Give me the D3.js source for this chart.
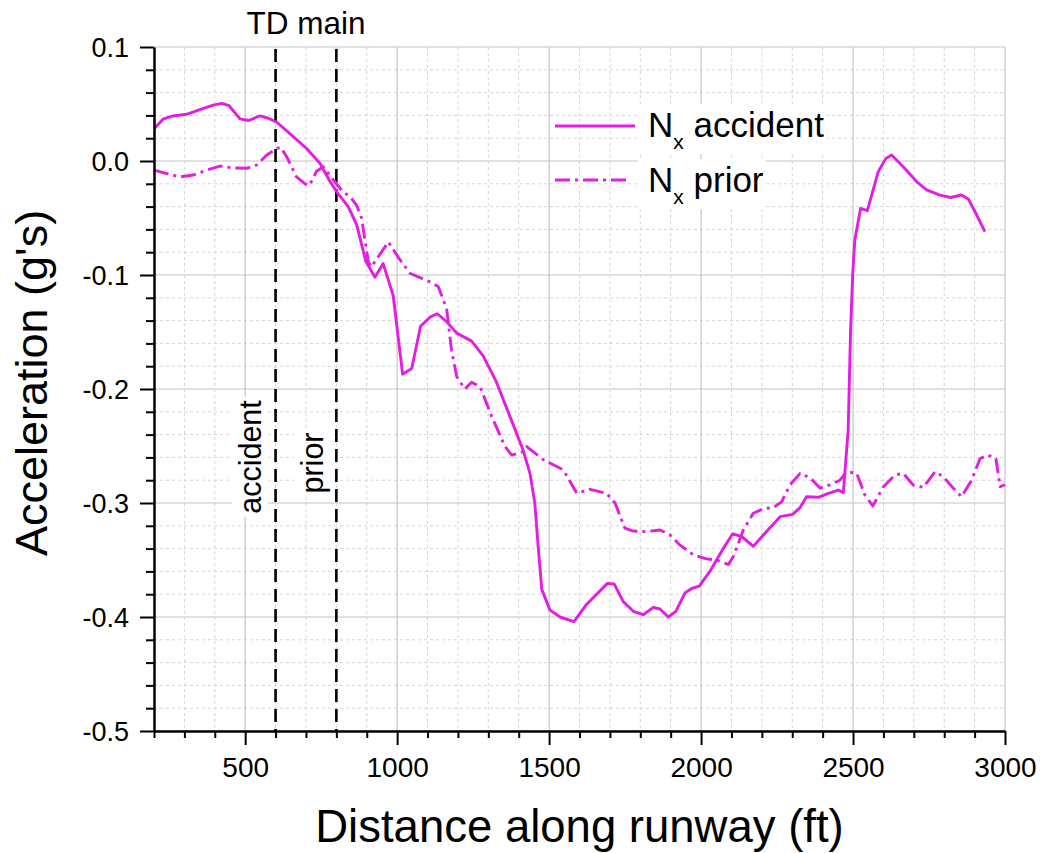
<!DOCTYPE html>
<html>
<head>
<meta charset="utf-8">
<script src="https://cdn.jsdelivr.net/npm/d3@7"></script>
<style>
  html, body { margin: 0; padding: 0; background: #fff; }
  svg { display: block; font-family: "Liberation Sans", Arial, sans-serif; }
</style>
</head>
<body>
<svg id="chart" width="1041" height="853"></svg>
<script>
// ---------------- data ----------------
const accidentX = [200,231,263,307,351,395,423,447,483,510,549,576,604,647,702,746,779,801,839,867,897,927,954,987,1018,1048,1077,1108,1132,1163,1196,1245,1283,1327,1371,1415,1437,1453,1464,1476,1503,1536,1582,1623,1692,1714,1744,1777,1810,1843,1865,1892,1917,1947,1969,1994,2029,2073,2104,2134,2172,2205,2260,2301,2326,2347,2386,2419,2452,2468,2484,2492,2499,2506,2525,2547,2583,2608,2627,2665,2709,2742,2786,2821,2857,2880,2907,2934];
const accidentY = [0.028,0.037,0.0395,0.041,0.045,0.049,0.0505,0.0485,0.037,0.0355,0.0395,0.0375,0.034,0.024,0.011,-0.002,-0.018,-0.027,-0.040,-0.056,-0.088,-0.102,-0.090,-0.118,-0.187,-0.182,-0.145,-0.137,-0.134,-0.141,-0.151,-0.158,-0.171,-0.194,-0.224,-0.254,-0.274,-0.300,-0.338,-0.376,-0.394,-0.400,-0.404,-0.389,-0.3705,-0.371,-0.3865,-0.395,-0.398,-0.3915,-0.393,-0.400,-0.395,-0.379,-0.375,-0.373,-0.360,-0.340,-0.327,-0.3295,-0.338,-0.328,-0.312,-0.310,-0.304,-0.2945,-0.295,-0.2915,-0.2886,-0.291,-0.236,-0.148,-0.0985,-0.069,-0.0415,-0.0436,-0.0094,0.0023,0.0053,-0.005,-0.018,-0.0254,-0.030,-0.032,-0.0298,-0.0336,-0.0474,-0.062];

const priorX = [200,242,285,329,373,417,456,505,538,571,604,617,636,669,697,711,735,757,785,817,850,867,883,894,905,915,971,1005,1042,1108,1135,1152,1163,1179,1196,1223,1245,1273,1311,1355,1377,1415,1426,1481,1547,1591,1635,1689,1717,1749,1777,1821,1865,1898,1931,1975,2018,2051,2090,2106,2139,2172,2205,2238,2265,2293,2326,2359,2392,2424,2457,2479,2512,2539,2565,2600,2638,2665,2698,2731,2770,2797,2830,2857,2890,2918,2945,2970,2984,3000];
const priorY = [-0.008,-0.011,-0.014,-0.0123,-0.008,-0.0044,-0.006,-0.0064,-0.0035,0.0053,0.011,0.012,0.004,-0.014,-0.020,-0.0215,-0.009,-0.005,-0.015,-0.0254,-0.033,-0.039,-0.050,-0.069,-0.088,-0.093,-0.071,-0.085,-0.0985,-0.106,-0.110,-0.122,-0.130,-0.166,-0.189,-0.200,-0.194,-0.198,-0.224,-0.2505,-0.258,-0.255,-0.2505,-0.262,-0.271,-0.2915,-0.288,-0.2915,-0.300,-0.322,-0.3246,-0.325,-0.3237,-0.328,-0.337,-0.3456,-0.349,-0.350,-0.354,-0.347,-0.3237,-0.309,-0.305,-0.304,-0.299,-0.284,-0.274,-0.278,-0.287,-0.284,-0.280,-0.2725,-0.274,-0.293,-0.3026,-0.2857,-0.2754,-0.274,-0.2842,-0.2863,-0.2725,-0.277,-0.287,-0.2945,-0.280,-0.261,-0.258,-0.261,-0.2857,-0.284];

const seriesNames = ["accident", "prior"];
const markerX = [600, 800];
const markerLabels = ["accident", "prior"];
const xMajorTicks = [500, 1000, 1500, 2000, 2500, 3000];
const yMajorTicks = [-0.5, -0.4, -0.3, -0.2, -0.1, 0.0, 0.1];
const xDomain = [200, 3000];
const yDomain = [-0.5, 0.1];
const xTitle = "Distance along runway (ft)";
const yTitle = "Acceleration (g's)";
const topLabel = "TD main";

// ---------------- layout ----------------
const COLOR = "#e21ee2";
const FONT = "Liberation Sans, Arial, sans-serif";
const LW = 2.9;
const svg = d3.select("#chart");
const x = d3.scaleLinear().domain(xDomain).range([154, 1005]);
const y = d3.scaleLinear().domain(yDomain).range([731, 47]);

const xMinorTicks = d3.range(200, 3001, 100).filter(v => v % 500 !== 0);
const yMinorTicks = d3.range(-25, 6).map(i => i / 50).filter(v => Math.abs(Math.round(v * 10) - v * 10) > 1e-6);

// grid
const grid = svg.append("g");
grid.selectAll(".vmin").data(xMinorTicks).join("line")
  .attr("x1", d => x(d)).attr("x2", d => x(d)).attr("y1", y(0.1)).attr("y2", y(-0.5))
  .attr("stroke", "#d4d4d4").attr("stroke-width", 1).attr("stroke-dasharray", "3,3");
grid.selectAll(".hmin").data(yMinorTicks).join("line")
  .attr("y1", d => y(d)).attr("y2", d => y(d)).attr("x1", x(200)).attr("x2", x(3000))
  .attr("stroke", "#d4d4d4").attr("stroke-width", 1).attr("stroke-dasharray", "3,3");
grid.selectAll(".vmaj").data(xMajorTicks).join("line")
  .attr("x1", d => x(d)).attr("x2", d => x(d)).attr("y1", y(0.1)).attr("y2", y(-0.5))
  .attr("stroke", "#c4c4c4").attr("stroke-width", 1.2);
grid.selectAll(".hmaj").data(yMajorTicks).join("line")
  .attr("y1", d => y(d)).attr("y2", d => y(d)).attr("x1", x(200)).attr("x2", x(3000))
  .attr("stroke", "#c4c4c4").attr("stroke-width", 1.2);

// marker labels with white background (rotated)
const labelBaseX = [261, 323];
const labelMidY = [457, 463];
const lblG = svg.append("g");
markerLabels.forEach((t, i) => {
  const g = lblG.append("g").attr("transform", `translate(${labelBaseX[i]},${labelMidY[i]}) rotate(-90)`);
  const rect = g.append("rect").attr("fill", "#fff");
  const txt = g.append("text").attr("text-anchor", "middle").style("font-size", "30.5px").attr("fill", "#000").text(t);
  const b = txt.node().getBBox();
  rect.attr("x", b.x - 3).attr("y", b.y - 1).attr("width", b.width + 6).attr("height", b.height + 2);
});

// vertical dashed marker lines
svg.selectAll(".marker").data(markerX).join("line")
  .attr("x1", d => x(d)).attr("x2", d => x(d)).attr("y1", y(0.1) + 2).attr("y2", y(-0.5))
  .attr("stroke", "#000").attr("stroke-width", 2.6).attr("stroke-dasharray", "13,7");

// lines
const line = d3.line().x(d => x(d[0])).y(d => y(d[1]));
const accData = accidentX.map((v, i) => [v, accidentY[i]]);
const priData = priorX.map((v, i) => [v, priorY[i]]);
svg.append("path").datum(priData).attr("d", line).attr("fill", "none")
  .attr("stroke", COLOR).attr("stroke-width", LW).attr("stroke-dasharray", "15,5,3,5")
  .attr("stroke-linejoin", "round");
svg.append("path").datum(accData).attr("d", line).attr("fill", "none")
  .attr("stroke", COLOR).attr("stroke-width", LW).attr("stroke-linejoin", "round");

// axes
const fmtY = d => d3.format(".1f")(d).replace("\u2212", "-");
const fmtX = d3.format("d");
const xAxis = svg.append("g").attr("transform", `translate(0,${y(-0.5)})`);
xAxis.append("g").call(d3.axisBottom(x).tickValues(xMinorTicks).tickSize(7).tickFormat(""))
  .call(g => g.select(".domain").remove())
  .call(g => g.selectAll("line").attr("stroke-width", 2));
xAxis.append("g").call(d3.axisBottom(x).tickValues(xMajorTicks).tickSize(14).tickSizeOuter(0).tickFormat(fmtX))
  .call(g => g.select(".domain").attr("stroke-width", 2.5))
  .call(g => g.selectAll("line").attr("stroke-width", 2))
  .call(g => g.selectAll("text").attr("y", 46).attr("dy", null)
    .style("font-size", "28px").style("font-family", FONT).attr("fill", "#000"));

const yAxis = svg.append("g").attr("transform", `translate(${x(200)},0)`);
yAxis.append("g").call(d3.axisLeft(y).tickValues(yMinorTicks).tickSize(8).tickFormat(""))
  .call(g => g.select(".domain").remove())
  .call(g => g.selectAll("line").attr("stroke-width", 2));
yAxis.append("g").call(d3.axisLeft(y).tickValues(yMajorTicks).tickSize(14).tickSizeOuter(0).tickFormat(fmtY))
  .call(g => g.select(".domain").attr("stroke-width", 2.5))
  .call(g => g.selectAll("line").attr("stroke-width", 2))
  .call(g => g.selectAll("text").attr("x", -25).attr("dy", "0.35em")
    .style("font-size", "27px").style("font-family", FONT).attr("fill", "#000"));

// titles
svg.append("text").attr("x", (x(200) + x(3000)) / 2).attr("y", 842).attr("text-anchor", "middle")
  .style("font-size", "45.5px").attr("fill", "#000").text(xTitle);
svg.append("text").attr("transform", `translate(47,383) rotate(-90)`).attr("text-anchor", "middle")
  .style("font-size", "45px").attr("fill", "#000").text(yTitle);
svg.append("text").attr("x", (x(markerX[0]) + x(markerX[1])) / 2).attr("y", 34).attr("text-anchor", "middle")
  .style("font-size", "31.5px").attr("fill", "#000").text(topLabel);

// legend
const legRows = [
  { name: seriesNames[0], y: 126, dash: null, len: 80, base: 137 },
  { name: seriesNames[1], y: 180, dash: "15,5,3,5", len: 75, base: 192 }
];
const leg = svg.append("g");
legRows.forEach(r => {
  const ln = leg.append("line").attr("x1", 555).attr("x2", 555 + r.len).attr("y1", r.y).attr("y2", r.y)
    .attr("stroke", COLOR).attr("stroke-width", LW);
  if (r.dash) ln.attr("stroke-dasharray", r.dash);
  const rect = leg.append("rect").attr("fill", "#fff");
  const t = leg.append("text").attr("x", 648).attr("y", r.base).style("font-size", "35px").attr("fill", "#000");
  t.append("tspan").text("N");
  t.append("tspan").style("font-size", "21px").attr("dy", 12).text("x");
  t.append("tspan").attr("dy", -12).text(" " + r.name);
  const b = t.node().getBBox();
  rect.attr("x", b.x - 10).attr("y", b.y - 1).attr("width", b.width + 12).attr("height", b.height + 2);
});
</script>
</body>
</html>
